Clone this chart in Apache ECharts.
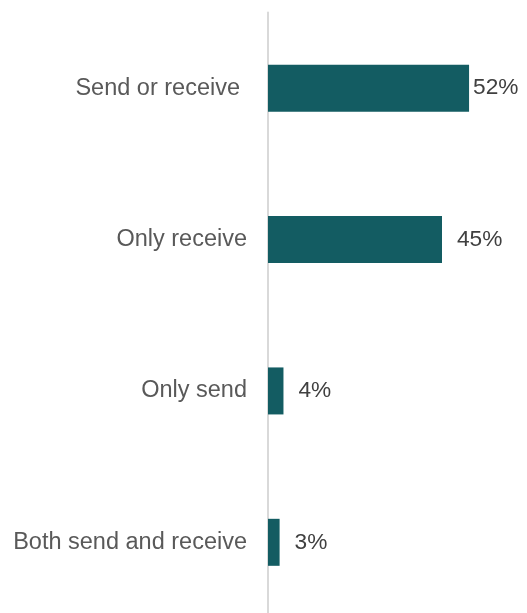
<!DOCTYPE html>
<html>
<head>
<meta charset="utf-8">
<style>
  html, body { margin: 0; padding: 0; background: #ffffff; overflow: hidden; }
  #chart { width: 527px; height: 618px; }
</style>
<script src="https://cdn.jsdelivr.net/npm/echarts@6/dist/echarts.min.js"></script>
</head>
<body>
<div id="chart"></div>
<script>
// Share of respondents by send/receive behaviour
const categories = ['Send or receive', 'Only receive', 'Only send', 'Both send and receive'];
const shares = [52, 45, 4, 3];
const valueLabels = ['52%', '45%', '4%', '3%'];

const chart = echarts.init(document.getElementById('chart'));

chart.setOption({
  animation: false,
  grid: { left: 268, top: 12.5, right: 27, bottom: 0, containLabel: false },
  xAxis: {
    type: 'value',
    min: 0,
    max: 60,
    show: false
  },
  yAxis: {
    type: 'category',
    inverse: true,
    data: categories.map((name, i) => ({
      value: name,
      // first label sits a little further from the axis
      textStyle: i === 0 ? { padding: [0, 7, 0, 0] } : {}
    })),
    axisLine: { show: true, lineStyle: { color: '#d9d9d9', width: 2 } },
    axisTick: { show: false },
    axisLabel: {
      margin: 21,
      color: '#595959',
      fontFamily: 'Liberation Sans, Arial, sans-serif',
      fontSize: 23.5
    },
    splitLine: { show: false }
  },
  series: [{
    type: 'bar',
    barWidth: 47,
    itemStyle: { color: '#135c62' },
    data: shares.map((v, i) => ({
      value: v,
      label: { distance: i === 0 ? 4 : 15 }
    })),
    label: {
      show: true,
      position: 'right',
      color: '#404040',
      fontFamily: 'Liberation Sans, Arial, sans-serif',
      fontSize: 22.7,
      formatter: p => valueLabels[p.dataIndex]
    }
  }]
});
</script>
</body>
</html>
